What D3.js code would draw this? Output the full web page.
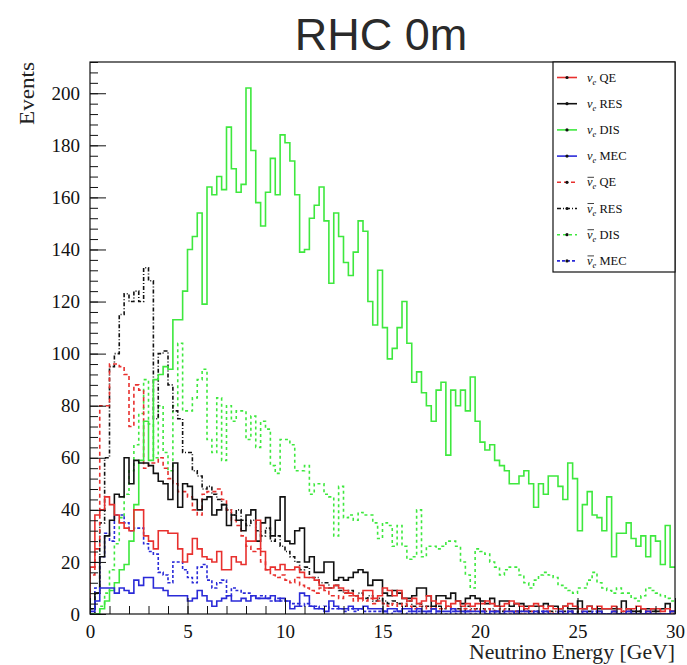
<!DOCTYPE html>
<html><head><meta charset="utf-8">
<script src="https://cdn.jsdelivr.net/npm/d3@7"></script>
<style>body{margin:0;background:#fff}</style>
</head><body>
<svg id="chart" width="687" height="665"></svg>
<script>
// ---------- data (bin contents, 0.25 GeV bins from 0 to 30 GeV) ----------
const binWidth = 0.25;
const eMin = 0, eMax = 30;
const yMax = 212;

const nueQE = [18,38,40,45,42,38,35,33,32,40, 40,30,28,25,32,32,31,31,25,20,
  23,29,25,22,21,20,24,17,17,22, 20,19,28,28,36,24,17,18,17,19,
  17,17,18,16,14,14,13,11,10,10, 11,10,9,8,7,6,9,9,6,7,
  10,9,7,9,6,5,6,4,5,7, 5,4,5,3,4,5,3,4,3,4,
  4,5,4,3,3,4,5,4,3,2, 3,4,3,2,3,2,2,3,4,3,
  2,2,3,2,3,2,2,3,2,1, 2,2,3,2,1,2,2,1,2,1];
const nueRES = [2,8,22,30,36,46,45,60,50,59, 58,58,57,54,51,50,44,58,41,50,
  49,44,40,44,45,38,40,42,34,38, 36,32,38,40,28,35,37,30,36,45,
  28,27,32,33,20,22,16,16,20,20, 13,14,13,14,16,17,16,11,13,13,
  8,7,9,8,6,6,7,10,10,7, 3,7,7,6,8,5,4,6,7,6,
  5,4,6,3,5,5,3,4,4,3, 3,3,3,4,3,3,2,3,2,2,
  5,2,3,2,2,2,2,2,2,5, 2,1,1,2,2,2,1,2,4,1];
const nueDIS = [0,0,2,5,9,12,17,19,28,42, 59,74,59,90,92,95,94,113,113,124,
  140,145,154,119,164,161,168,163,187,171, 162,165,202,178,158,149,162,175,161,184,
  181,174,161,139,140,152,157,164,151,127, 154,145,135,130,139,151,147,120,111,132,
  110,98,102,110,120,104,89,93,85,80, 74,86,89,61,86,80,86,78,91,74,
  66,63,65,59,57,55,50,50,53,55, 50,41,50,46,53,53,49,44,58,52,
  32,42,47,38,37,32,45,22,31,31, 35,29,26,30,22,30,28,19,34,18];
const nueMEC = [1,5,10,10,10,8,10,9,8,13, 11,14,14,10,10,9,7,7,7,7,
  5,6,9,7,5,3,5,6,7,5, 5,6,5,7,6,6,6,7,5,6,
  5,2,3,8,7,3,2,2,1,5, 3,2,2,3,2,2,3,2,2,2,
  1,2,2,1,2,2,1,2,1,1, 2,1,1,1,2,1,1,1,1,1,
  1,0,1,1,0,1,1,0,1,1, 0,1,0,1,0,0,1,0,1,0,
  0,1,0,0,1,0,0,1,0,0, 1,0,0,0,1,0,0,0,0,1];
const anueQE = [15,25,80,80,96,96,95,92,72,88, 86,56,58,58,60,56,52,50,47,47,
  45,40,38,46,47,47,48,44,40,36, 34,30,26,24,25,20,17,15,14,15,
  13,12,14,11,10,9,8,10,9,7, 7,6,8,7,5,6,5,6,4,5,
  4,3,4,3,4,3,2,3,3,2, 3,2,2,3,2,1,2,2,1,2,
  1,2,1,1,2,1,1,1,0,1, 1,1,0,1,1,0,1,0,1,0,
  0,1,0,0,1,0,0,1,0,0, 1,0,0,0,1,0,0,0,0,0];
const anueRES = [0,8,35,60,95,100,115,123,120,124, 120,133,128,75,100,101,88,78,75,62,
  62,55,53,48,49,46,44,42,40,38, 40,36,34,36,32,30,33,28,30,26,
  24,22,20,17,18,14,14,12,12,10, 11,9,8,9,7,8,6,7,5,6,
  5,4,5,4,3,5,3,4,3,3, 2,3,2,3,2,2,1,3,2,2,
  2,1,2,1,1,2,1,1,1,2, 1,1,0,1,1,1,0,1,1,0,
  1,0,1,0,1,0,0,1,0,1, 0,0,1,0,0,1,0,0,0,0];
const anueDIS = [0,0,3,8,17,27,37,46,55,65, 77,90,73,60,80,62,55,80,104,78,
  78,83,90,94,67,62,83,59,80,74, 78,78,67,76,64,74,71,57,54,67,
  67,65,55,55,57,46,50,50,46,45, 30,49,37,38,36,39,38,38,35,29,
  35,34,26,34,26,21,22,40,22,26, 26,25,26,28,28,26,20,15,10,25,
  24,23,20,18,15,17,18,18,15,12, 10,13,15,16,15,14,11,10,9,8,
  10,10,13,16,12,10,9,8,10,8, 8,6,5,7,10,9,8,7,6,5];
const anueMEC = [2,10,22,31,28,38,38,35,32,33, 33,27,24,23,16,15,12,20,20,17,
  14,12,18,19,13,10,12,13,7,10, 9,8,8,7,6,7,6,5,6,5,
  5,4,4,3,4,3,3,2,3,2, 2,2,1,2,1,2,1,1,1,1,
  1,0,1,1,0,1,0,1,0,1, 0,1,0,0,1,0,0,1,0,0,
  1,0,0,1,0,0,0,1,0,0, 0,0,1,0,0,0,0,0,1,0,
  0,0,0,1,0,0,0,0,0,0, 0,1,0,0,0,0,0,0,0,0];

const xMajorTicks = [0,5,10,15,20,25,30];
const yMajorTicks = [0,20,40,60,80,100,120,140,160,180,200];
const legendNames = ["QE","RES","DIS","MEC","QE","RES","DIS","MEC"];

// ---------- layout ----------
const svg = d3.select("#chart");
const L = 90, R = 675, T = 62, B = 614;
const x = d3.scaleLinear().domain([eMin, eMax]).range([L, R]);
const y = d3.scaleLinear().domain([0, yMax]).range([B, T]);

const series = [
  {vals: anueDIS, color: "#3ee83e", dash: "3,3", bar: true},
  {vals: anueRES, color: "#111", dash: "4,2,1,2", bar: true},
  {vals: anueQE,  color: "#e8302e", dash: "4,3", bar: true},
  {vals: anueMEC, color: "#2a2ad8", dash: "3,2", bar: true},
  {vals: nueDIS,  color: "#3ee83e", dash: null, bar: false},
  {vals: nueRES,  color: "#111", dash: null, bar: false},
  {vals: nueQE,   color: "#e8302e", dash: null, bar: false},
  {vals: nueMEC,  color: "#2a2ad8", dash: null, bar: false}
];

const plot = svg.append("g");
plot.append("clipPath").attr("id","clip").append("rect")
  .attr("x", L).attr("y", T).attr("width", R-L).attr("height", B-T);

const line = d3.line().x(d => x(d[0])).y(d => y(d[1])).curve(d3.curveStepAfter);
const g = plot.append("g").attr("clip-path","url(#clip)");
series.forEach(s => {
  const pts = [[eMin, 0]];
  s.vals.forEach((v, i) => pts.push([eMin + i*binWidth, v]));
  pts.push([eMax, s.vals[s.vals.length-1]]);
  g.append("path").attr("d", line(pts))
    .attr("fill","none").attr("stroke", s.color)
    .attr("stroke-width", 1.6)
    .attr("stroke-dasharray", s.dash);
});

// ---------- axes ----------
const serif = "'Liberation Serif','DejaVu Serif',serif";
const yMinor = d3.range(0, yMax+0.1, 4);
const xMinor = d3.range(0, 30.1, 1);

svg.append("g").attr("transform", `translate(${L},0)`)
  .call(d3.axisLeft(y).tickValues(yMinor).tickSize(-8).tickFormat(""))
  .call(a => a.select(".domain").remove());
const ya = svg.append("g").attr("transform", `translate(${L},0)`)
  .call(d3.axisLeft(y).tickValues(yMajorTicks).tickSize(-16).tickPadding(10));
ya.select(".domain").remove();
ya.selectAll("text").attr("font-family", serif).attr("font-size", 19).attr("fill","#111");

svg.append("g").attr("transform", `translate(0,${B})`)
  .call(d3.axisBottom(x).tickValues(xMinor).tickSize(-8).tickFormat(""))
  .call(a => a.select(".domain").remove());
const xa = svg.append("g").attr("transform", `translate(0,${B})`)
  .call(d3.axisBottom(x).tickValues(xMajorTicks).tickSize(-16).tickPadding(11));
xa.select(".domain").remove();
xa.selectAll("text").attr("font-family", serif).attr("font-size", 19).attr("fill","#111");
svg.selectAll(".tick line").attr("stroke","#111");

svg.append("rect").attr("x", L).attr("y", T).attr("width", R-L).attr("height", B-T)
  .attr("fill","none").attr("stroke","#111").attr("stroke-width",1.2);

// axis titles
svg.append("text").attr("x", R).attr("y", 659).attr("text-anchor","end")
  .attr("font-family", serif).attr("font-size", 20).attr("fill","#222")
  .attr("textLength", 206).attr("lengthAdjust","spacingAndGlyphs")
  .text("Neutrino Energy [GeV]");
svg.append("text").attr("transform", `translate(34,${T}) rotate(-90)`)
  .attr("text-anchor","end").attr("font-family", serif).attr("font-size", 20).attr("fill","#222")
  .attr("textLength", 63).attr("lengthAdjust","spacingAndGlyphs")
  .text("Events");

// title
svg.append("text").attr("x", 381).attr("y", 50).attr("text-anchor","middle")
  .attr("font-family","'Liberation Sans',Arial,sans-serif").attr("font-size", 45)
  .attr("fill","#2a2a2a").text("RHC 0m");

// ---------- legend ----------
const lg = svg.append("g");
lg.append("rect").attr("x", 553).attr("y", T).attr("width", R-553).attr("height", 210)
  .attr("fill","#fff").attr("stroke","#111").attr("stroke-width",1.2);
const legendOrder = [6,5,4,7,2,1,0,3];
legendOrder.forEach((si, k) => {
  const s = series[si];
  const yy = 77.5 + k*26.2;
  lg.append("line").attr("x1",557).attr("x2",577).attr("y1",yy).attr("y2",yy)
    .attr("stroke", s.color).attr("stroke-width",1.6).attr("stroke-dasharray", s.dash);
  lg.append("circle").attr("cx",567).attr("cy",yy).attr("r",1.6).attr("fill","#111");
  const t = lg.append("text").attr("x",587).attr("y",yy+4)
    .attr("font-family", serif).attr("font-size", 12.5).attr("fill","#111");
  t.append("tspan").attr("font-style","italic").text("\u03BD");
  t.append("tspan").attr("font-style","italic").attr("font-size",8.5).attr("dy",3).text("e");
  t.append("tspan").attr("dy",-3).text(" " + legendNames[k]);
  if (s.bar) {
    lg.append("line").attr("x1",587.5).attr("x2",594).attr("y1",yy-5).attr("y2",yy-5)
      .attr("stroke","#111").attr("stroke-width",0.8);
  }
});
</script>
</body></html>
